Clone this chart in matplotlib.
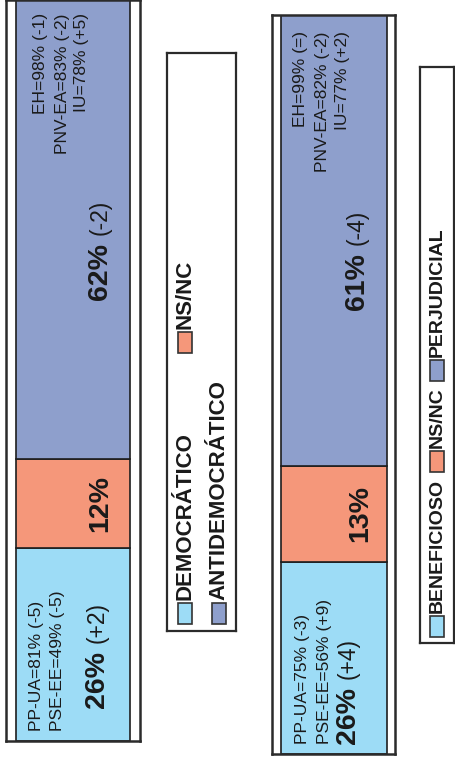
import matplotlib
matplotlib.use('Agg')
import matplotlib.pyplot as plt
from matplotlib import font_manager
from matplotlib.patches import Rectangle
from matplotlib.transforms import blended_transform_factory

names = {f.name for f in font_manager.fontManager.ttflist}
FONT = 'Liberation Sans' if 'Liberation Sans' in names else 'DejaVu Sans'
plt.rcParams['font.family'] = [FONT, 'DejaVu Sans']

# datos
cats_left = ['DEMOCRÁTICO', 'NS/NC', 'ANTIDEMOCRÁTICO']
vals_left = [26, 12, 62]
chg_left = ['(+2)', '', '(-2)']
low_left = ['PP-UA=81% (-5)', 'PSE-EE=49% (-5)']
high_left = ['EH=98% (-1)', 'PNV-EA=83% (-2)', 'IU=78% (+5)']

cats_right = ['BENEFICIOSO', 'NS/NC', 'PERJUDICIAL']
vals_right = [26, 13, 61]
chg_right = ['(+4)', '', '(-4)']
low_right = ['PP-UA=75% (-3)', 'PSE-EE=56% (+9)']
high_right = ['EH=99% (=)', 'PNV-EA=82% (-2)', 'IU=77% (+2)']

colors = ['#9DDCF6', '#F5977A', '#8E9FCC']
EDGE = '#1e1e1e'

W, H = 455, 760
fig = plt.figure(figsize=(W / 100, H / 100), dpi=100)


def add_ax(x0, y0, x1, y1):
    # caja en pixeles, origen arriba-izquierda
    return fig.add_axes([x0 / W, 1 - y1 / H, (x1 - x0) / W, (y1 - y0) / H])


def panel(ax, vals, chg, low, high, width, lay):
    bottom = 0
    for v, c in zip(vals, colors):
        ax.bar(0, v, bottom=bottom, width=width, color=c,
               edgecolor=EDGE, linewidth=1.2)
        bottom += v
    ax.set_xlim(-0.5, 0.5)
    ax.set_ylim(0, 100)
    ax.set_xticks([])
    ax.set_yticks([])
    for s in ax.spines.values():
        s.set_linewidth(1.8)
        s.set_color('#2b2b2b')
    tr = blended_transform_factory(ax.transAxes, ax.transData)
    kw = dict(rotation=90, rotation_mode='anchor', va='center',
              transform=tr, color='#1a1a1a')

    # partidos abajo
    for txt, x in zip(low, lay['low_x']):
        ax.text(x, lay['low_y'], txt, ha='left', fontsize=12.5, **kw)
    # partidos arriba
    for txt, x in zip(high, lay['high_x']):
        ax.text(x, lay['high_y'], txt, ha='right', fontsize=12.5, **kw)

    # valor inferior
    t = ax.text(lay['v0'][0], lay['v0'][1], f'{vals[0]}%', ha='left',
                fontsize=20.5, fontweight='bold', **kw)
    ax.annotate(chg[0], xy=(0.5, 1), xycoords=t, xytext=(0, 6),
                textcoords='offset points', rotation=90,
                rotation_mode='anchor', ha='left', va='center',
                fontsize=16.5, color='#1a1a1a')
    # valor medio
    ax.text(lay['v1x'], vals[0] + vals[1] / 2, f'{vals[1]}%', ha='center',
            fontsize=20.5, fontweight='bold', **kw)
    # valor superior
    t = ax.text(lay['v2'][0], lay['v2'][1], f'{vals[2]}%', ha='left',
                fontsize=20.5, fontweight='bold', **kw)
    ax.annotate(chg[2], xy=(0.5, 1), xycoords=t, xytext=(0, 6),
                textcoords='offset points', rotation=90,
                rotation_mode='anchor', ha='left', va='center',
                fontsize=16.5, color='#1a1a1a')


def legend(ax, cats, entries, w, h, fs):
    ax.set_xlim(0, w)
    ax.set_ylim(h, 0)
    ax.set_xticks([])
    ax.set_yticks([])
    for s in ax.spines.values():
        s.set_linewidth(1.6)
        s.set_color('#2b2b2b')
    for cat, c, (xc, yb) in zip(cats, colors, entries):
        ax.add_patch(Rectangle((xc - 7, yb - 21), 14, 21, facecolor=c,
                               edgecolor='#333333', linewidth=1.2))
        ax.text(xc, yb - 24, cat, rotation=90, rotation_mode='anchor',
                ha='left', va='center', fontsize=fs, fontweight='bold',
                color='#1a1a1a')


# panel izquierdo
ax1 = add_ax(6, 0, 140, 741)
panel(ax1, vals_left, chg_left, low_left, high_left, 114 / 134,
      dict(low_x=[0.231, 0.388], low_y=1.3,
           high_x=[0.254, 0.418, 0.567], high_y=98.2,
           v0=(0.679, 4.4), v1x=0.70, v2=(0.70, 59.5)))

# panel derecho
ax2 = add_ax(272, 15, 395, 754)
panel(ax2, vals_right, chg_right, low_right, high_right, 106 / 123,
      dict(low_x=[0.245, 0.425], low_y=1.3,
           high_x=[0.228, 0.407, 0.577], high_y=97.8,
           v0=(0.62, 1.3), v1x=0.715, v2=(0.691, 60.1)))

# leyendas
lg1 = add_ax(167, 53, 236, 631)
legend(lg1, cats_left, [(18, 571), (18, 300), (52, 571)], 69, 578, 16)

lg2 = add_ax(420, 67, 454, 643)
legend(lg2, cats_right, [(17, 570), (17, 405), (17, 314)], 34, 576, 14)

fig.savefig('out.png', dpi=100)
